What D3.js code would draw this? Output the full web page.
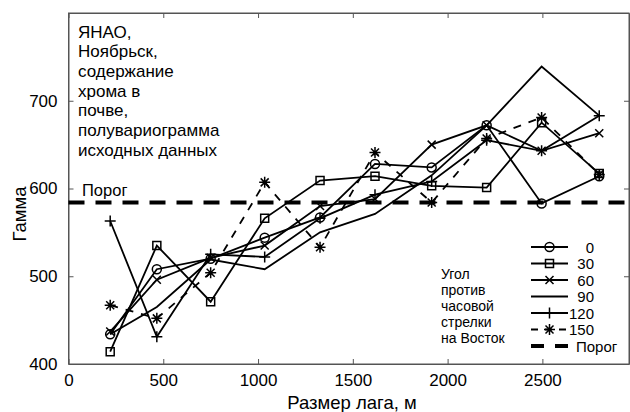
<!DOCTYPE html>
<head>
	<meta charset="utf-8">
	<style>
		body {margin: 0; background: #fff;}
		text {font-family: "Liberation Sans", Arial, sans-serif; fill: #000;}
		.series {fill: none; stroke: #000; stroke-width: 1.8;}
		.mark {fill: none; stroke: #000; stroke-width: 1.5;}
	</style>
	<script src="https://d3js.org/d3.v7.min.js" charset="utf-8"></script>
</head>
<body>
	<script>
		// lag sizes, m
		var lags = [220, 466, 750, 1035, 1327, 1617, 1916, 2206, 2496, 2800];
		// semivariogram values per direction (degrees counter-clockwise from East)
		var gamma0   = [434, 508, 520, 544, 567, 628, 624, 672, 583, 614];
		var gamma30  = [414, 535, 471, 566, 609, 614, 603, 601, 675, 617];
		var gamma60  = [437, 496, 521, 535, 580, 588, 650, 672, 643, 663];
		var gamma90  = [434, 465, 519, 508, 550, 571, 615, 672, 739, 683];
		var gamma120 = [563, 431, 525, 522, 566, 593, 608, 655, 643, 683];
		var gamma150 = [467, 452, 504, 607, 533, 641, 584, 657, 681, 616];
		var threshold = 584;
		var directions = ["0", "30", "60", "90", "120", "150"];
		var xTicks = [0, 500, 1000, 1500, 2000, 2500];
		var yTicks = [400, 500, 600, 700];
		var titleLines = ["ЯНАО,", "Ноябрьск,", "содержание", "хрома в", "почве,", "полувариограмма", "исходных данных"];
		var noteLines = ["Угол", "против", "часовой", "стрелки", "на Восток"];

		var series = [
			{name: directions[0], values: gamma0, marker: "circle", dash: null},
			{name: directions[1], values: gamma30, marker: "square", dash: null},
			{name: directions[2], values: gamma60, marker: "cross", dash: null},
			{name: directions[3], values: gamma90, marker: "none", dash: null},
			{name: directions[4], values: gamma120, marker: "plus", dash: null},
			{name: directions[5], values: gamma150, marker: "star", dash: "8,8"}
		];

		var W = 630, H = 412;
		var margin = {top: 13, right: 1, bottom: 48, left: 68.5},
			width = W - margin.left - margin.right,
			height = H - margin.top - margin.bottom;

		var svg = d3.select("body").append("svg")
			.attr("width", W)
			.attr("height", H);

		var g = svg.append("g")
			.attr("transform", "translate(" + margin.left + "," + margin.top + ")");

		var x = d3.scaleLinear().domain([0, 2957]).range([0, width]);
		var y = d3.scaleLinear().domain([400, 800]).range([height, 0]);

		// axes with inward ticks on all four sides
		var ax = g.append("g").attr("transform", "translate(0," + height + ")")
			.call(d3.axisBottom(x).tickValues(xTicks).tickFormat(d3.format("d"))
				.tickSizeInner(-5).tickSizeOuter(0).tickPadding(10));
		var ay = g.append("g")
			.call(d3.axisLeft(y).tickValues(yTicks).tickFormat(d3.format("d"))
				.tickSizeInner(-5).tickSizeOuter(0).tickPadding(10));
		g.append("g").call(d3.axisTop(x).tickValues(xTicks).tickSizeInner(-5).tickSizeOuter(0).tickFormat(""));
		g.append("g").attr("transform", "translate(" + width + ",0)")
			.call(d3.axisRight(y).tickValues(yTicks).tickSizeInner(-5).tickSizeOuter(0).tickFormat(""));
		g.selectAll(".domain").attr("stroke", "#555");
		g.selectAll(".tick line").attr("stroke", "#555");
		g.selectAll(".tick text").attr("font-size", "17px").attr("font-family", "Liberation Sans, Arial, sans-serif");
		ay.selectAll(".tick text").attr("dx", "-1");
		// frame
		g.append("rect").attr("width", width).attr("height", height)
			.attr("fill", "none").attr("stroke", "#555").attr("stroke-width", 1);

		// threshold
		g.append("line")
			.attr("x1", 0).attr("x2", width)
			.attr("y1", y(threshold)).attr("y2", y(threshold))
			.attr("stroke", "#000").attr("stroke-width", 4)
			.attr("stroke-dasharray", "16,11");

		var line = d3.line()
			.x(function(d, i){return x(lags[i]);})
			.y(function(d){return y(d);});

		function markerPath(type, cx, cy) {
			var p = d3.path();
			if (type == "circle") {
				p.moveTo(cx + 4.5, cy); p.arc(cx, cy, 4.5, 0, 2 * Math.PI);
			} else if (type == "square") {
				p.rect(cx - 4, cy - 4, 8, 8);
			} else if (type == "cross") {
				p.moveTo(cx - 4, cy - 4); p.lineTo(cx + 4, cy + 4);
				p.moveTo(cx - 4, cy + 4); p.lineTo(cx + 4, cy - 4);
			} else if (type == "plus") {
				p.moveTo(cx - 5.5, cy); p.lineTo(cx + 5.5, cy);
				p.moveTo(cx, cy - 5.5); p.lineTo(cx, cy + 5.5);
			} else if (type == "star") {
				p.moveTo(cx - 5.5, cy); p.lineTo(cx + 5.5, cy);
				p.moveTo(cx, cy - 5.5); p.lineTo(cx, cy + 5.5);
				p.moveTo(cx - 4, cy - 4); p.lineTo(cx + 4, cy + 4);
				p.moveTo(cx - 4, cy + 4); p.lineTo(cx + 4, cy - 4);
			}
			return p.toString();
		}

		series.forEach(function(s){
			g.append("path")
				.datum(s.values)
				.attr("class", "series")
				.attr("stroke-dasharray", s.dash)
				.attr("d", line);
			if (s.marker != "none") {
				g.selectAll(null)
					.data(s.values)
					.enter()
					.append("path")
					.attr("class", "mark")
					.attr("stroke-width", s.marker == "star" ? 2 : 1.5)
					.attr("d", function(d, i){return markerPath(s.marker, x(lags[i]), y(d));});
			}
		});

		// text inside the plot
		g.selectAll(".title")
			.data(titleLines)
			.enter()
			.append("text")
			.attr("x", 9.5)
			.attr("y", function(d, i){return 24.5 + i * 19.7;})
			.attr("font-size", "17px")
			.text(function(d){return d;});

		g.append("text")
			.attr("x", 13.5).attr("y", 183)
			.attr("font-size", "16.5px")
			.text("Порог");

		g.selectAll(".note")
			.data(noteLines)
			.enter()
			.append("text")
			.attr("x", 372.5)
			.attr("y", function(d, i){return 266 + i * 16;})
			.attr("font-size", "14px")
			.text(function(d){return d;});

		// legend
		var legend = svg.append("g");
		var rowY = function(i){return 247 + i * 16.5;};
		series.forEach(function(s, i){
			var ly = rowY(i);
			legend.append("line")
				.attr("x1", 531).attr("x2", 568).attr("y1", ly).attr("y2", ly)
				.attr("stroke", "#000").attr("stroke-width", 2)
				.attr("stroke-dasharray", s.dash ? "7,7" : null);
			if (s.marker != "none") {
				legend.append("path").attr("class", "mark")
					.attr("stroke-width", s.marker == "star" ? 2.5 : 2)
					.attr("d", markerPath(s.marker, 549.5, ly));
			}
			legend.append("text")
				.attr("x", 594).attr("y", ly + 5.5)
				.attr("text-anchor", "end")
				.attr("font-size", "15px")
				.text(s.name);
		});
		legend.append("line")
			.attr("x1", 531).attr("x2", 568).attr("y1", rowY(6)).attr("y2", rowY(6))
			.attr("stroke", "#000").attr("stroke-width", 4)
			.attr("stroke-dasharray", "13,11");
		legend.append("text")
			.attr("x", 576).attr("y", rowY(6) + 5.5)
			.attr("font-size", "15px")
			.text("Порог");

		// axis titles
		svg.append("text")
			.attr("x", 352).attr("y", 409)
			.attr("text-anchor", "middle")
			.attr("font-size", "18.5px")
			.text("Размер лага, м");
		svg.append("text")
			.attr("transform", "translate(26,214) rotate(-90)")
			.attr("text-anchor", "middle")
			.attr("font-size", "18.5px")
			.text("Гамма");
	</script>
</body>
</html>
